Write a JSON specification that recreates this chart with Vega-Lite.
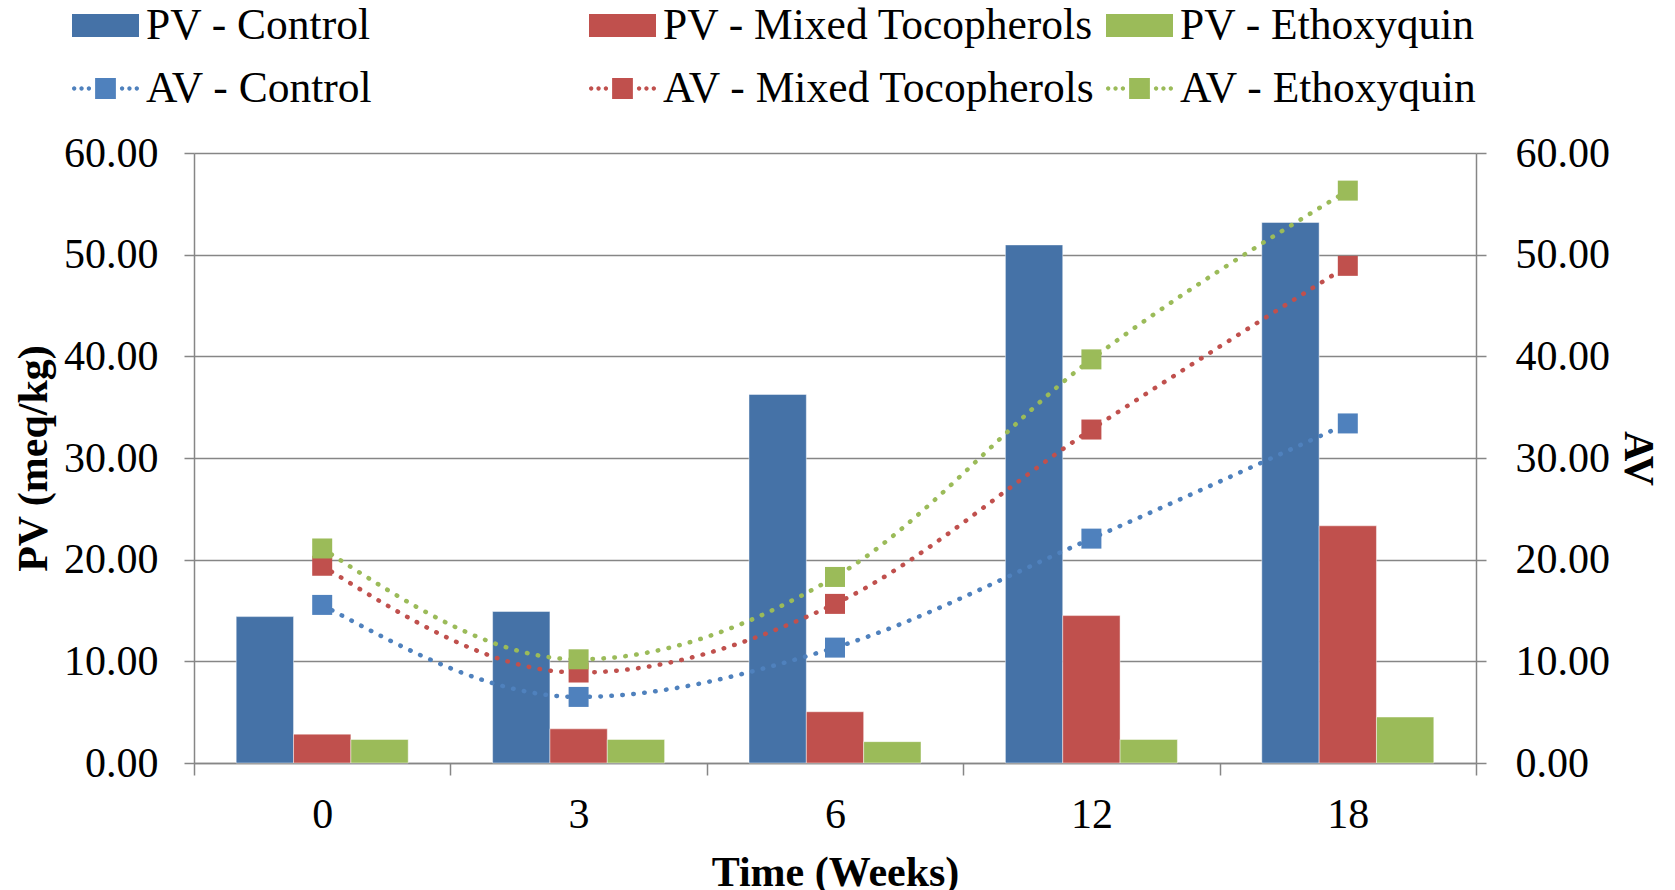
{
  "$schema": "https://vega.github.io/schema/vega-lite/v6.json",
  "width": 1282,
  "height": 610,
  "autosize": {"type": "none"},
  "padding": {"left": 194, "top": 153, "right": 199, "bottom": 127},
  "background": "white",
  "config": {
    "font": "Liberation Serif",
    "view": {"stroke": null},
    "axis": {
      "labelFont": "Liberation Serif",
      "titleFont": "Liberation Serif",
      "labelFontSize": 42,
      "titleFontSize": 42,
      "labelColor": "black",
      "titleColor": "black",
      "titleFontWeight": "bold",
      "domainColor": "#868686",
      "domainWidth": 1.5,
      "tickColor": "#868686",
      "tickWidth": 1.5
    }
  },
  "datasets": {
    "pv": [
      {"time": "0", "series": "PV - Control", "value": 14.4},
      {"time": "3", "series": "PV - Control", "value": 14.9},
      {"time": "6", "series": "PV - Control", "value": 36.25},
      {"time": "12", "series": "PV - Control", "value": 50.96},
      {"time": "18", "series": "PV - Control", "value": 53.17},
      {"time": "0", "series": "PV - Mixed Tocopherols", "value": 2.84},
      {"time": "3", "series": "PV - Mixed Tocopherols", "value": 3.36},
      {"time": "6", "series": "PV - Mixed Tocopherols", "value": 5.04},
      {"time": "12", "series": "PV - Mixed Tocopherols", "value": 14.5},
      {"time": "18", "series": "PV - Mixed Tocopherols", "value": 23.33},
      {"time": "0", "series": "PV - Ethoxyquin", "value": 2.31},
      {"time": "3", "series": "PV - Ethoxyquin", "value": 2.31},
      {"time": "6", "series": "PV - Ethoxyquin", "value": 2.1},
      {"time": "12", "series": "PV - Ethoxyquin", "value": 2.31},
      {"time": "18", "series": "PV - Ethoxyquin", "value": 4.52}
    ],
    "av": [
      {"time": "0", "series": "AV - Control", "value": 15.55},
      {"time": "3", "series": "AV - Control", "value": 6.5},
      {"time": "6", "series": "AV - Control", "value": 11.35},
      {"time": "12", "series": "AV - Control", "value": 22.07},
      {"time": "18", "series": "AV - Control", "value": 33.4},
      {"time": "0", "series": "AV - Mixed Tocopherols", "value": 19.4},
      {"time": "3", "series": "AV - Mixed Tocopherols", "value": 8.9},
      {"time": "6", "series": "AV - Mixed Tocopherols", "value": 15.65},
      {"time": "12", "series": "AV - Mixed Tocopherols", "value": 32.8},
      {"time": "18", "series": "AV - Mixed Tocopherols", "value": 48.9},
      {"time": "0", "series": "AV - Ethoxyquin", "value": 21.1},
      {"time": "3", "series": "AV - Ethoxyquin", "value": 10.2},
      {"time": "6", "series": "AV - Ethoxyquin", "value": 18.3},
      {"time": "12", "series": "AV - Ethoxyquin", "value": 39.7},
      {"time": "18", "series": "AV - Ethoxyquin", "value": 56.3}
    ]
  },
  "layer": [
    {
      "data": {"name": "pv"},
      "mark": {"type": "bar", "stroke": "#ffffff", "strokeOpacity": 0.45, "strokeWidth": 1},
      "encoding": {
        "x": {
          "field": "time",
          "type": "nominal",
          "scale": {"domain": ["0", "3", "6", "12", "18"], "paddingInner": 0, "paddingOuter": 0},
          "axis": {
            "title": "Time (Weeks)",
            "labelAngle": 0,
            "tickBand": "extent",
            "tickSize": 12,
            "labelPadding": 19,
            "titlePadding": 17,
            "grid": false
          }
        },
        "xOffset": {
          "field": "series",
          "type": "nominal",
          "scale": {"domain": ["PV - Control", "PV - Mixed Tocopherols", "PV - Ethoxyquin"], "paddingInner": 0, "paddingOuter": 0.736}
        },
        "y": {
          "field": "value",
          "type": "quantitative",
          "scale": {"domain": [0, 60], "nice": false},
          "axis": {
            "title": "PV (meq/kg)",
            "values": [0, 10, 20, 30, 40, 50, 60],
            "format": ".2f",
            "grid": true,
            "gridColor": "#868686",
            "gridWidth": 1.5,
            "tickSize": 10,
            "labelPadding": 26,
            "titlePadding": 8
          }
        },
        "color": {
          "field": "series",
          "type": "nominal",
          "scale": {
            "domain": ["PV - Control", "PV - Mixed Tocopherols", "PV - Ethoxyquin", "AV - Control", "AV - Mixed Tocopherols", "AV - Ethoxyquin"],
            "range": ["#4572A7", "#C0504D", "#9BBB59", "#4F81BD", "#C0504D", "#9BBB59"]
          },
          "legend": {
            "orient": "none",
            "legendX": -122,
            "legendY": -161,
            "direction": "horizontal",
            "columns": 3,
            "gridAlign": "all",
            "title": null,
            "padding": 0,
            "labelFont": "Liberation Serif",
            "labelFontSize": 43.5,
            "labelColor": "black",
            "labelOffset": 7,
            "labelLimit": 0,
            "columnPadding": 10,
            "rowPadding": 8,
            "symbolSize": 4489,
            "symbolStrokeWidth": 0,
            "symbolType": {"expr": "indexof(datum.value, 'PV') === 0 ? 'M-1,-0.34L1,-0.34L1,0.34L-1,0.34Z' : 'M-0.31,-0.31L0.31,-0.31L0.31,0.31L-0.31,0.31Z M-1,0a0.065,0.065 0 1,0 0.13,0a0.065,0.065 0 1,0 -0.13,0Z M-0.78,0a0.065,0.065 0 1,0 0.13,0a0.065,0.065 0 1,0 -0.13,0Z M-0.56,0a0.065,0.065 0 1,0 0.13,0a0.065,0.065 0 1,0 -0.13,0Z M0.43,0a0.065,0.065 0 1,0 0.13,0a0.065,0.065 0 1,0 -0.13,0Z M0.65,0a0.065,0.065 0 1,0 0.13,0a0.065,0.065 0 1,0 -0.13,0Z M0.87,0a0.065,0.065 0 1,0 0.13,0a0.065,0.065 0 1,0 -0.13,0Z'"}
          }
        }
      }
    },
    {
      "data": {"name": "av"},
      "encoding": {
        "x": {"field": "time", "type": "nominal"},
        "y": {
          "field": "value",
          "type": "quantitative",
          "scale": {"domain": [0, 60], "nice": false},
          "axis": {
            "orient": "right",
            "title": "AV",
            "values": [0, 10, 20, 30, 40, 50, 60],
            "format": ".2f",
            "grid": false,
            "tickSize": 10,
            "labelPadding": 29,
            "titlePadding": 6
          }
        },
        "color": {"field": "series", "type": "nominal"}
      },
      "layer": [
        {"mark": {"type": "line", "interpolate": "monotone", "strokeDash": [0.5, 10.5], "strokeCap": "round", "strokeWidth": 4.5}},
        {"mark": {"type": "point", "shape": "square", "filled": true, "size": 400, "opacity": 1}}
      ]
    }
  ],
  "resolve": {"scale": {"y": "independent"}}
}
